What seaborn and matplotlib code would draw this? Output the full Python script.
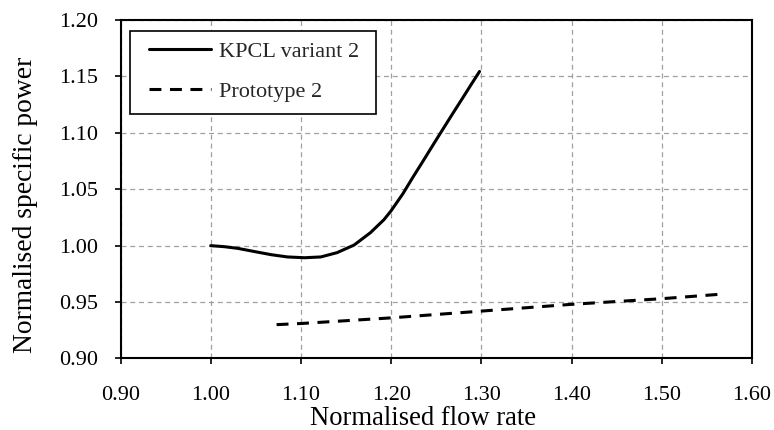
import matplotlib
matplotlib.use("Agg")
import matplotlib.pyplot as plt
from matplotlib.patches import Rectangle
import seaborn as sns
import pandas as pd

# Data
kpcl_x = [1.000, 1.015, 1.030, 1.049, 1.067, 1.085, 1.104, 1.122, 1.140, 1.159, 1.177,
          1.192, 1.200, 1.213, 1.224, 1.236, 1.247, 1.256, 1.267, 1.280, 1.289, 1.298]
kpcl_y = [1.000, 0.9991, 0.9976, 0.9947, 0.992, 0.990, 0.9893, 0.990, 0.9938, 1.0006, 1.0115,
          1.023, 1.031, 1.046, 1.0605, 1.0758, 1.090, 1.1015, 1.1155, 1.1318, 1.1432, 1.1544]
proto_x = [1.073, 1.10, 1.20, 1.30, 1.40, 1.50, 1.566]
proto_y = [0.930, 0.931, 0.936, 0.942, 0.948, 0.953, 0.957]
series_names = ["KPCL variant 2", "Prototype 2"]
x_ticks = [0.90, 1.00, 1.10, 1.20, 1.30, 1.40, 1.50, 1.60]
y_ticks = [0.90, 0.95, 1.00, 1.05, 1.10, 1.15, 1.20]
x_label = "Normalised flow rate"
y_label = "Normalised specific power"

sns.set_theme(style="ticks")
plt.rcParams["font.family"] = ["Liberation Serif", "DejaVu Serif"]

fig = plt.figure(figsize=(7.74, 4.30), dpi=100)
ax = fig.add_axes([0.1557, 0.1663, 0.9716 - 0.1557, 0.9535 - 0.1663])

df1 = pd.DataFrame({"x": kpcl_x, "y": kpcl_y})
df2 = pd.DataFrame({"x": proto_x, "y": proto_y})

sns.lineplot(data=df1, x="x", y="y", ax=ax, color="black", linewidth=2.2,
             sort=False, estimator=None, label=series_names[0])
sns.lineplot(data=df2, x="x", y="y", ax=ax, color="black", linewidth=2.2,
             sort=False, estimator=None, label=series_names[1],
             linestyle=(0, (3.9, 2.8)))
for ln in ax.get_lines():
    ln.set_solid_capstyle("round")
    ln.set_solid_joinstyle("round")

ax.set_xlim(0.90, 1.60)
ax.set_ylim(0.90, 1.20)
ax.set_xticks(x_ticks)
ax.set_yticks(y_ticks)
ax.set_xticklabels([f"{v:.2f}" for v in x_ticks])
ax.set_yticklabels([f"{v:.2f}" for v in y_ticks])
ax.tick_params(axis="both", direction="out", length=4, width=1.2, labelsize=16,
               color="black", labelcolor="black")
ax.tick_params(axis="x", pad=16)
ax.tick_params(axis="y", pad=12)

ax.grid(True, color="#a0a0a0", linestyle=(0, (4, 3)), linewidth=0.9)
ax.set_axisbelow(True)
for s in ax.spines.values():
    s.set_visible(True)
    s.set_color("black")
    s.set_linewidth(1.5)

ax.set_xlabel(x_label, fontsize=19.2, color="black")
ax.set_ylabel(y_label, fontsize=19.8, color="black")
ax.xaxis.set_label_coords(0.479, -0.140)
ax.yaxis.set_label_coords(-0.131, 0.4535)

leg = ax.legend(loc="upper left", bbox_to_anchor=(0.0293, 0.9675), fontsize=16,
                frameon=False, handlelength=2.8, handletextpad=0.35,
                labelspacing=0.9, borderpad=0.45, borderaxespad=0)
leg.set_zorder(6)

# Rectangular frame around the legend (wider padding horizontally)
fig.canvas.draw()
bb = leg.get_window_extent(fig.canvas.get_renderer())
inv = fig.transFigure.inverted()
(x0, y0) = inv.transform((bb.x0 - 9, bb.y0 - 2))
(x1, y1) = inv.transform((bb.x1 + 7, bb.y1))
frame = Rectangle((x0, y0), x1 - x0, y1 - y0, transform=fig.transFigure,
                  facecolor="white", edgecolor="black", linewidth=1.2,
                  zorder=5, clip_on=False)
ax.add_patch(frame)

fig.savefig("out.png", dpi=100, facecolor="white")
